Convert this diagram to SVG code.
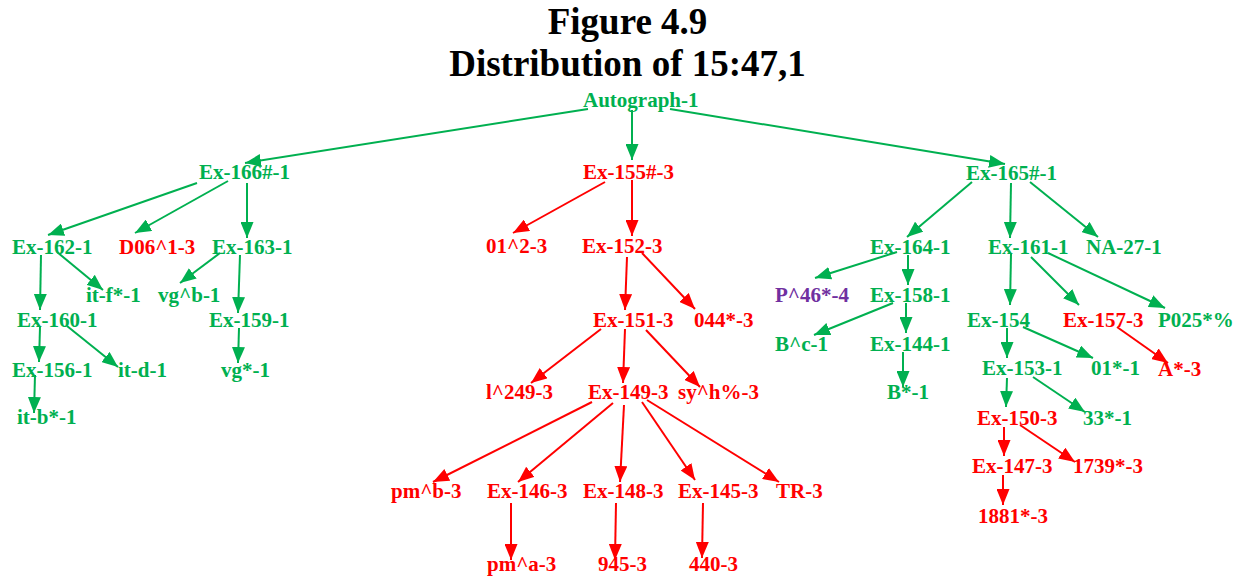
<svg xmlns="http://www.w3.org/2000/svg" width="1243" height="577" viewBox="0 0 1243 577">
<style>
text{font-family:"Liberation Serif","Times New Roman",serif;font-weight:bold;}
.t{font-size:37px;fill:#000;text-anchor:middle;}
.n{font-size:21px;}
.g{fill:#00B050;}
.r{fill:#FF0000;}
.p{fill:#7030A0;}
.eg{stroke:#00B050;stroke-width:2;fill:none;marker-end:url(#ag);}
.er{stroke:#FF0000;stroke-width:2;fill:none;marker-end:url(#ar);}
</style>
<defs>
<marker id="ag" markerUnits="userSpaceOnUse" markerWidth="17" markerHeight="13" refX="16" refY="6.5" orient="auto" viewBox="0 0 17 13"><path d="M0,0 L16,6.5 L0,13 Z" fill="#00B050"/></marker>
<marker id="ar" markerUnits="userSpaceOnUse" markerWidth="17" markerHeight="13" refX="16" refY="6.5" orient="auto" viewBox="0 0 17 13"><path d="M0,0 L16,6.5 L0,13 Z" fill="#FF0000"/></marker>
</defs>
<rect width="1243" height="577" fill="#fff"/>
<g id="title">
<text class="t" x="627.5" y="34">Figure 4.9</text>
<text class="t" x="627.5" y="76">Distribution of 15:47,1</text>
</g>
<g id="connectors">
<path class="eg" d="M588,109 L245,163"/>
<path class="eg" d="M632,110 L632,160"/>
<path class="eg" d="M670,109 L1005,164"/>
<path class="eg" d="M197,183 L48,235"/>
<path class="eg" d="M228,181 L135,233"/>
<path class="eg" d="M247,183 L247,238"/>
<path class="eg" d="M41,255 L40,310"/>
<path class="eg" d="M57,252 L103,290"/>
<path class="eg" d="M220,253 L180,283"/>
<path class="eg" d="M240,255 L238,313"/>
<path class="eg" d="M40,327 L39,362"/>
<path class="eg" d="M67,326 L118,367"/>
<path class="eg" d="M239,328 L238,363"/>
<path class="eg" d="M35,375 L34,413"/>
<path class="er" d="M605,182 L513,233"/>
<path class="er" d="M632,180 L632,236"/>
<path class="er" d="M627,257 L625,310"/>
<path class="er" d="M642,253 L695,309"/>
<path class="er" d="M601,329 L531,383"/>
<path class="er" d="M625,329 L623,383"/>
<path class="er" d="M646,330 L700,387"/>
<path class="er" d="M592,402 L433,482"/>
<path class="er" d="M613,403 L518,482"/>
<path class="er" d="M624,405 L620,482"/>
<path class="er" d="M642,402 L695,480"/>
<path class="er" d="M647,400 L779,482"/>
<path class="er" d="M511,503 L511,560"/>
<path class="er" d="M616,503 L615,560"/>
<path class="er" d="M703,503 L702,558"/>
<path class="eg" d="M972,182 L907,237"/>
<path class="eg" d="M1011,183 L1010,238"/>
<path class="eg" d="M1030,182 L1098,237"/>
<path class="eg" d="M897,252 L815,278"/>
<path class="eg" d="M908,255 L908,285"/>
<path class="eg" d="M1011,254 L1010,305"/>
<path class="eg" d="M1031,257 L1079,305"/>
<path class="eg" d="M1048,253 L1165,308"/>
<path class="eg" d="M893,303 L814,335"/>
<path class="eg" d="M906,303 L906,333"/>
<path class="eg" d="M903,352 L903,387"/>
<path class="eg" d="M1007,328 L1007,358"/>
<path class="eg" d="M1023,327 L1093,358"/>
<path class="er" d="M1117,327 L1168,363"/>
<path class="eg" d="M1007,378 L1006,407"/>
<path class="eg" d="M1033,377 L1085,412"/>
<path class="er" d="M1004,427 L1004,456"/>
<path class="er" d="M1020,425 L1075,462"/>
<path class="er" d="M1003,475 L1003,505"/>
</g>
<g id="n-autograph"><text class="n g" x="583" y="107">Autograph-1</text></g>
<g id="n-ex166"><text class="n g" x="199" y="179">Ex-166#-1</text></g>
<g id="n-ex155"><text class="n r" x="583" y="179">Ex-155#-3</text></g>
<g id="n-ex165"><text class="n g" x="966" y="180">Ex-165#-1</text></g>
<g id="n-ex162"><text class="n g" x="12" y="254">Ex-162-1</text></g>
<g id="n-d06"><text class="n r" x="119" y="254">D06^1-3</text></g>
<g id="n-ex163"><text class="n g" x="212" y="254">Ex-163-1</text></g>
<g id="n-012"><text class="n r" x="486" y="253">01^2-3</text></g>
<g id="n-ex152"><text class="n r" x="582" y="253">Ex-152-3</text></g>
<g id="n-ex164"><text class="n g" x="870" y="254">Ex-164-1</text></g>
<g id="n-ex161"><text class="n g" x="988" y="254">Ex-161-1</text></g>
<g id="n-na27"><text class="n g" x="1086" y="254">NA-27-1</text></g>
<g id="n-itf"><text class="n g" x="86" y="302">it-f*-1</text></g>
<g id="n-vgb"><text class="n g" x="158" y="302">vg^b-1</text></g>
<g id="n-p46"><text class="n p" x="775" y="302">P^46*-4</text></g>
<g id="n-ex158"><text class="n g" x="870" y="302">Ex-158-1</text></g>
<g id="n-ex160"><text class="n g" x="17" y="327">Ex-160-1</text></g>
<g id="n-ex159"><text class="n g" x="209" y="327">Ex-159-1</text></g>
<g id="n-ex151"><text class="n r" x="593" y="327">Ex-151-3</text></g>
<g id="n-044"><text class="n r" x="694" y="327">044*-3</text></g>
<g id="n-ex154"><text class="n g" x="967" y="327">Ex-154</text></g>
<g id="n-ex157"><text class="n r" x="1063" y="327">Ex-157-3</text></g>
<g id="n-p025"><text class="n g" x="1158" y="327">P025*%</text></g>
<g id="n-bc"><text class="n g" x="775" y="351">B^c-1</text></g>
<g id="n-ex144"><text class="n g" x="870" y="351">Ex-144-1</text></g>
<g id="n-ex156"><text class="n g" x="12" y="377">Ex-156-1</text></g>
<g id="n-itd"><text class="n g" x="118" y="377">it-d-1</text></g>
<g id="n-vg"><text class="n g" x="221" y="377">vg*-1</text></g>
<g id="n-ex153"><text class="n g" x="982" y="375">Ex-153-1</text></g>
<g id="n-01"><text class="n g" x="1091" y="375">01*-1</text></g>
<g id="n-a"><text class="n r" x="1158" y="376">A*-3</text></g>
<g id="n-l249"><text class="n r" x="486" y="399">l^249-3</text></g>
<g id="n-ex149"><text class="n r" x="588" y="399">Ex-149-3</text></g>
<g id="n-syh"><text class="n r" x="678" y="399">sy^h%-3</text></g>
<g id="n-b"><text class="n g" x="887" y="399">B*-1</text></g>
<g id="n-itb"><text class="n g" x="17" y="424">it-b*-1</text></g>
<g id="n-ex150"><text class="n r" x="977" y="425">Ex-150-3</text></g>
<g id="n-33"><text class="n g" x="1083" y="425">33*-1</text></g>
<g id="n-ex147"><text class="n r" x="972" y="473">Ex-147-3</text></g>
<g id="n-1739"><text class="n r" x="1073" y="473">1739*-3</text></g>
<g id="n-pmb"><text class="n r" x="391" y="498">pm^b-3</text></g>
<g id="n-ex146"><text class="n r" x="487" y="498">Ex-146-3</text></g>
<g id="n-ex148"><text class="n r" x="583" y="498">Ex-148-3</text></g>
<g id="n-ex145"><text class="n r" x="678" y="498">Ex-145-3</text></g>
<g id="n-tr"><text class="n r" x="776" y="498">TR-3</text></g>
<g id="n-1881"><text class="n r" x="978" y="523">1881*-3</text></g>
<g id="n-pma"><text class="n r" x="487" y="571">pm^a-3</text></g>
<g id="n-945"><text class="n r" x="598" y="571">945-3</text></g>
<g id="n-440"><text class="n r" x="689" y="571">440-3</text></g>
</svg>
